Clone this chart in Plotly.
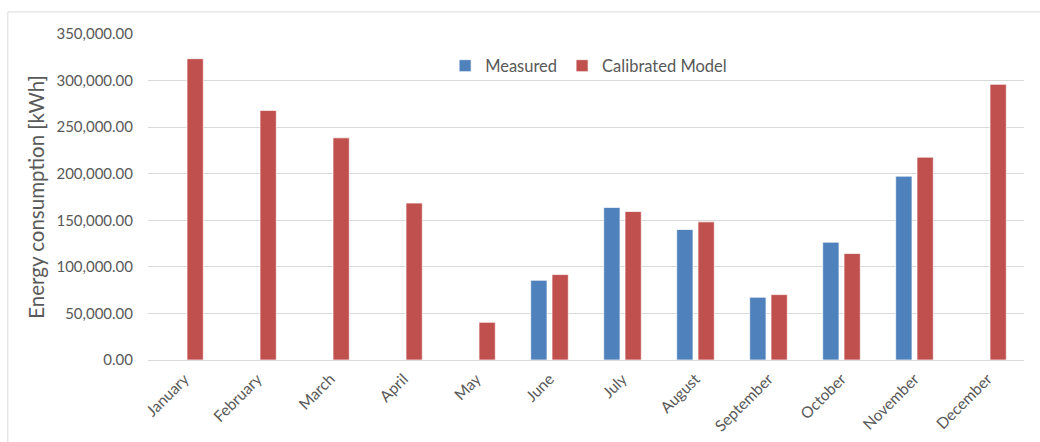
import plotly.graph_objects as go

months = ["January", "February", "March", "April", "May", "June", "July",
          "August", "September", "October", "November", "December"]
measured = [None, None, None, None, None, 85600, 163800, 140100, 67400, 126500, 197400, None]
calibrated = [323500, 268000, 238500, 168500, 40500, 91700, 159400, 148300, 70200, 114300, 217800, 296000]
y_ticks = [0, 50000, 100000, 150000, 200000, 250000, 300000, 350000]

FONT = "Lato, 'Open Sans', sans-serif"
GRAY = "#595959"

fig = go.Figure()
fig.add_trace(go.Bar(name="Measured", x=months, y=measured,
                     marker=dict(color="#4F81BD", line=dict(color="rgba(255,255,255,0.7)", width=1))))
fig.add_trace(go.Bar(name="Calibrated Model", x=months, y=calibrated,
                     marker=dict(color="#C0504D", line=dict(color="rgba(255,255,255,0.7)", width=1))))

fig.update_layout(
    width=1040, height=442,
    margin=dict(l=148, r=16, t=34, b=82),
    paper_bgcolor="white", plot_bgcolor="white",
    barmode="group", bargap=0.416, bargroupgap=0.235,
    font=dict(family=FONT, color=GRAY, size=15),
    legend=dict(orientation="h", x=0.503, xanchor="center", y=0.902, yanchor="middle",
                font=dict(size=16.5, color=GRAY), bgcolor="rgba(0,0,0,0)",
                itemwidth=30, tracegroupgap=0),
    showlegend=True,
    shapes=[dict(type="rect", xref="paper", yref="paper", x0=-0.16, x1=1.06, y0=-0.6, y1=1.0676,
                 line=dict(color="#D9D9D9", width=1), fillcolor="rgba(0,0,0,0)", layer="below")],
)
fig.update_xaxes(tickangle=-45, tickfont=dict(size=15.5, color=GRAY), showgrid=False,
                 showline=False, ticks="", automargin=False, ticklabelstandoff=6)
fig.update_yaxes(range=[0, 350000], tickvals=y_ticks, tickformat=",.2f",
                 tickfont=dict(size=15, color=GRAY), showgrid=True, gridcolor="#D9D9D9", gridwidth=1.3,
                 zeroline=True, zerolinecolor="#D9D9D9", zerolinewidth=1.3,
                 showline=False, ticks="", ticklabelstandoff=14, automargin=False,
                 title=dict(text="Energy consumption [kWh]", font=dict(size=20.5, color=GRAY), standoff=6))

fig.write_html("out.html")
